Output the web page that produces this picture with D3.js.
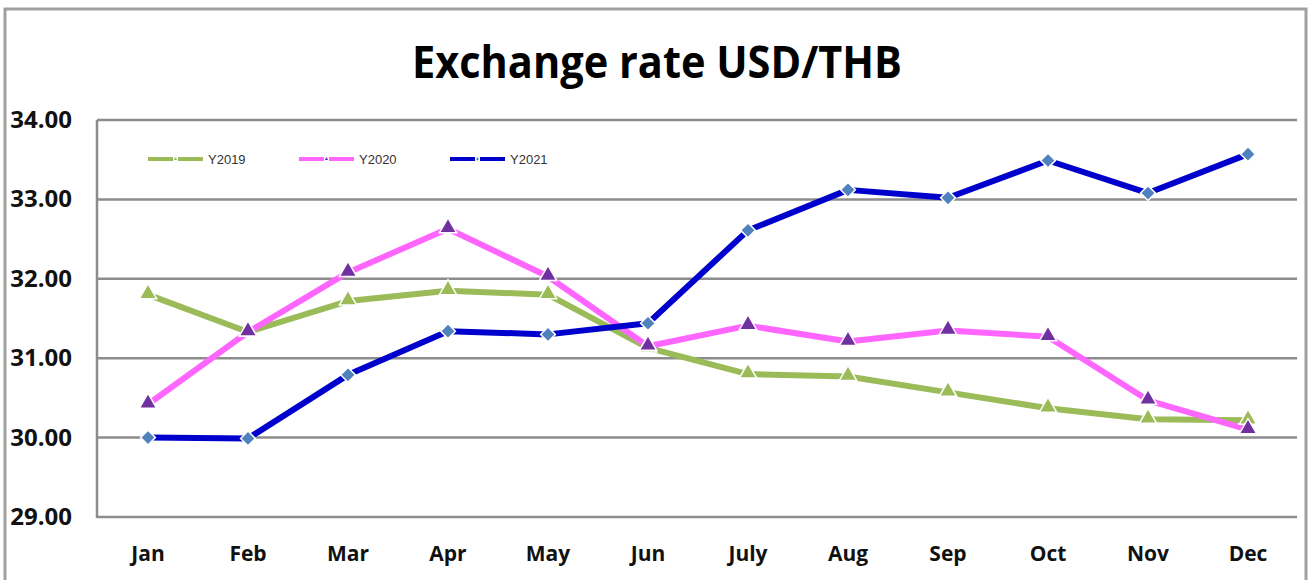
<!DOCTYPE html>
<html><head><meta charset="utf-8">
<script src="https://cdn.jsdelivr.net/npm/d3@7"></script>
<style>body{margin:0;background:#fff}</style>
</head><body>
<svg id="c" width="1311" height="580"></svg>
<script>
const months = ["Jan","Feb","Mar","Apr","May","Jun","July","Aug","Sep","Oct","Nov","Dec"];
const y2019 = [31.80,31.33,31.72,31.85,31.80,31.13,30.80,30.77,30.57,30.37,30.23,30.22];
const y2020 = [30.42,31.33,32.08,32.63,32.03,31.15,31.41,31.21,31.35,31.27,30.47,30.10];
const y2021 = [30.00,29.99,30.79,31.34,31.30,31.44,32.61,33.12,33.02,33.49,33.08,33.57];
const yTicks = [29,30,31,32,33,34];
const seriesNames = ["Y2019","Y2020","Y2021"];

const series = [
  {name:seriesNames[0], values:y2019, line:"#9BBB59", mark:"#9BBB59", shape:"tri"},
  {name:seriesNames[1], values:y2020, line:"#FF66FF", mark:"#7030A0", shape:"tri"},
  {name:seriesNames[2], values:y2021, line:"#0000CC", mark:"#4F81BD", shape:"dia"}
];

const svg = d3.select("#c");
const W=1311,H=580;
svg.append("path").attr("d",`M5,${H+5}V9H1306V${H+5}`).attr("fill","none").attr("stroke","#a0a0a0").attr("stroke-width",3);

const x = d3.scalePoint().domain(months).range([148,1248]);
const y = d3.scaleLinear().domain([29,34]).range([517,120]);
const left=97,right=1297;

svg.append("text").attr("x",657).attr("y",78).attr("text-anchor","middle")
  .attr("font-family","Open Sans, sans-serif").attr("font-weight","bold").attr("font-size",44)
  .attr("textLength",490).attr("lengthAdjust","spacingAndGlyphs")
  .text("Exchange rate USD/THB");

svg.append("g").selectAll("line").data(yTicks).join("line")
  .attr("x1",left).attr("x2",right).attr("y1",d=>y(d)).attr("y2",d=>y(d))
  .attr("stroke","#8c8c8c").attr("stroke-width",2.5);
svg.append("line").attr("x1",left).attr("x2",left).attr("y1",y(34)).attr("y2",y(29)+1)
  .attr("stroke","#8c8c8c").attr("stroke-width",2.5);

svg.append("g").selectAll("text").data(yTicks).join("text")
  .attr("x",72).attr("y",d=>y(d)+8).attr("text-anchor","end")
  .attr("font-family","Open Sans, sans-serif").attr("font-weight","bold").attr("font-size",24)
  .attr("fill","#111").text(d=>d3.format(".2f")(d));

svg.append("g").selectAll("text").data(months).join("text")
  .attr("x",d=>x(d)).attr("y",561).attr("text-anchor","middle")
  .attr("font-family","Open Sans, sans-serif").attr("font-weight","bold").attr("font-size",21)
  .attr("fill","#111").text(d=>d);

const line = d3.line().x((d,i)=>x(months[i])).y(d=>y(d));
series.forEach(s=>{
  svg.append("path").datum(s.values).attr("d",line).attr("fill","none")
    .attr("stroke",s.line).attr("stroke-width",6).attr("stroke-linejoin","round");
});
series.forEach(s=>{
  const tri = s.shape==="tri";
  const sym = d3.symbol().type(tri?d3.symbolTriangle:d3.symbolSquare).size(tri?130:110);
  svg.append("g").selectAll("path").data(s.values).join("path")
    .attr("transform",(d,i)=>`translate(${x(months[i])},${y(d)+(tri?-1:0)})${tri?"":" rotate(45)"}`)
    .attr("d",sym).attr("fill",s.mark).attr("stroke","#fff").attr("stroke-width",1.5);
});

const lg = svg.append("g");
series.forEach((s,i)=>{
  const x0 = 148 + i*151, yy = 159;
  const tri = s.shape==="tri";
  lg.append("line").attr("x1",x0).attr("x2",x0+25).attr("y1",yy).attr("y2",yy).attr("stroke",s.line).attr("stroke-width",4);
  lg.append("line").attr("x1",x0+30).attr("x2",x0+55).attr("y1",yy).attr("y2",yy).attr("stroke",s.line).attr("stroke-width",4);
  lg.append("path").attr("transform",`translate(${x0+27.5},${yy})${tri?"":" rotate(45)"}`)
    .attr("d",d3.symbol().type(tri?d3.symbolTriangle:d3.symbolSquare).size(5)).attr("fill",s.mark);
  lg.append("text").attr("x",x0+60).attr("y",yy+5).attr("font-family","Liberation Sans, Arial, sans-serif")
    .attr("font-size",13).attr("fill","#333").text(s.name);
});
</script>
</body></html>
